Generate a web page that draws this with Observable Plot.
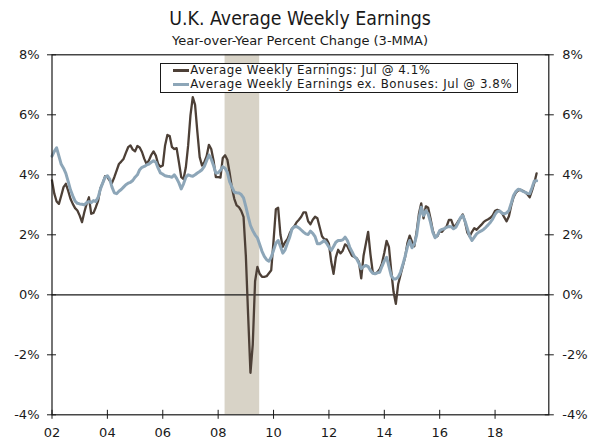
<!DOCTYPE html>
<html>
<head>
<meta charset="utf-8">
<script src="https://cdn.jsdelivr.net/npm/d3@7"></script>
<script src="https://cdn.jsdelivr.net/npm/@observablehq/plot@0.6"></script>
<style>
  body { margin: 0; background: #fff; }
  #wrap { position: relative; width: 600px; height: 443px; background: #fff; font-family: "DejaVu Sans", sans-serif; color: #1a1a1a; overflow: hidden; }
  .title { position: absolute; left: 0; width: 600px; text-align: center; line-height: 1; white-space: nowrap; }
  #t1 { top: 8px; font-size: 20px; transform: scaleX(0.87); }
  #t2 { top: 34px; font-size: 13px; }
  #chart { position: absolute; left: 0; top: 44px; }
  #legend { position: absolute; left: 160px; top: 62.7px; border: 1px solid #1a1a1a; background: #fff; padding: 0.3px 5px 0.3px 11.7px; font-size: 11.8px; letter-spacing: 0.55px; }
  .row { height: 13.8px; line-height: 13.8px; white-space: nowrap; display: flex; align-items: center; }
  .sw { display: inline-block; width: 16.6px; height: 3px; margin-right: 1px; }
</style>
</head>
<body>
<div id="wrap">
  <div class="title" id="t1">U.K. Average Weekly Earnings</div>
  <div class="title" id="t2">Year-over-Year Percent Change (3-MMA)</div>
  <div id="chart"></div>
  <div id="legend"></div>
</div>
<script>
// Monthly data, Jan 2002 – Jul 2019 (3-month average, year-over-year % change)
const startYear = 2002;
const aweTotal = [
  3.81, 3.37, 3.11, 3.03, 3.3, 3.59, 3.7, 3.47, 3.2, 3.03, 2.89, 2.81,
  2.64, 2.42, 2.75, 3.03, 3.25, 2.7, 2.73, 2.92, 3.14, 3.55, 3.73, 3.95,
  3.92, 3.81, 3.73, 3.92, 4.14, 4.36, 4.44, 4.53, 4.73, 4.92, 4.98, 4.84,
  4.78, 4.96, 4.91, 4.76, 4.53, 4.36, 4.48, 4.66, 4.78, 4.64, 4.36, 4.27,
  4.31, 4.98, 5.33, 5.29, 4.92, 4.86, 4.89, 4.42, 3.92, 3.86, 4.25, 4.98,
  5.98, 6.59, 6.33, 5.42, 4.59, 4.31, 4.42, 4.62, 5.0, 4.86, 4.48, 3.92,
  3.92, 3.91, 4.56, 4.65, 4.5, 4.05, 3.55, 3.2, 2.98, 2.92, 2.8, 2.6,
  1.3, -0.7, -2.6, -1.65, 0.45, 0.93, 0.7, 0.6, 0.6, 0.62, 0.72, 0.82,
  1.8, 2.85, 2.9, 2.0, 1.6, 1.75, 1.85, 2.05, 2.2, 2.28, 2.42, 2.5,
  2.6, 2.75, 2.75, 2.45, 2.35, 2.5, 2.6, 2.55, 2.25, 1.95, 1.85, 1.85,
  1.7, 1.1, 0.7, 1.25, 1.5, 1.38, 1.47, 1.68, 1.62, 1.45, 1.3, 1.26,
  1.22, 1.1, 0.55, 1.3, 1.7, 2.1, 1.35, 0.75, 0.7, 0.75, 0.85, 1.05,
  1.4, 1.8, 1.6, 0.8, 0.1, -0.3, 0.35, 0.65, 0.95, 1.25, 1.72, 1.97,
  1.77, 1.62, 2.1, 2.7, 3.05, 2.55, 2.95, 2.9, 2.55, 2.15, 1.92, 1.95,
  2.12, 2.1, 2.2, 2.28, 2.5, 2.5, 2.28, 2.32, 2.45, 2.55, 2.68, 2.42,
  2.07, 1.95, 2.1, 2.22, 2.17, 2.25, 2.33, 2.42, 2.48, 2.52, 2.57, 2.65,
  2.8, 2.83, 2.8, 2.73, 2.58, 2.45, 2.62, 2.98, 3.25, 3.4, 3.48, 3.5,
  3.47, 3.42, 3.35, 3.25, 3.47, 3.73, 4.05
];
const aweRegular = [
  4.62, 4.78, 4.9, 4.62, 4.35, 4.22, 4.05, 3.78, 3.5, 3.3, 3.12, 3.05,
  3.03, 3.02, 3.0, 3.07, 3.11, 3.07, 3.14, 3.11, 3.25, 3.53, 3.73, 3.92,
  3.97, 3.86, 3.59, 3.4, 3.37, 3.45, 3.51, 3.59, 3.67, 3.72, 3.75, 3.81,
  3.92, 4.0, 4.17, 4.25, 4.28, 4.33, 4.36, 4.42, 4.47, 4.42, 4.22, 4.06,
  4.02, 3.97, 3.95, 3.94, 3.92, 4.0, 3.88, 3.73, 3.53, 3.7, 3.92, 4.0,
  3.97, 3.95, 4.0, 4.06, 4.11, 4.17, 4.28, 4.47, 4.66, 4.53, 4.31, 4.06,
  4.07, 4.15, 4.27, 4.22, 4.08, 3.76, 3.59, 3.42, 3.4, 3.39, 3.34, 3.23,
  2.94, 2.61, 2.31, 2.14, 2.0, 1.9, 1.68, 1.45, 1.28, 1.17, 1.12, 1.26,
  1.48, 1.72, 1.81, 1.61, 1.39, 1.5, 1.72, 1.92, 2.19, 2.27, 2.28, 2.23,
  2.16, 2.09, 2.03, 2.01, 2.12, 2.05, 1.94, 1.7, 1.7, 1.75, 1.81, 1.72,
  1.59, 1.48, 1.61, 1.75, 1.81, 1.81, 1.83, 1.92, 1.81, 1.59, 1.44, 1.28,
  1.2, 1.05, 0.87, 0.94, 0.98, 0.94, 0.81, 0.72, 0.7, 0.73, 0.75, 0.95,
  1.13, 1.25, 0.95, 0.64, 0.53, 0.53, 0.59, 0.75, 1.0, 1.28, 1.59, 1.81,
  1.57, 1.7, 1.98, 2.53, 2.92, 2.64, 2.81, 2.7, 2.42, 2.09, 1.9, 1.98,
  2.14, 2.18, 2.2, 2.25, 2.28, 2.27, 2.2, 2.25, 2.4, 2.57, 2.64, 2.45,
  2.2, 1.95, 1.81, 1.92, 2.03, 2.09, 2.13, 2.18, 2.25, 2.33, 2.42, 2.53,
  2.68, 2.78, 2.79, 2.72, 2.7, 2.73, 2.81, 3.05, 3.31, 3.44, 3.52, 3.5,
  3.45, 3.42, 3.38, 3.37, 3.57, 3.79, 3.8
];
const recessions = [{start: 2008.25, end: 2009.5}];
const yDomain = [-4, 8];
const yTicks = [-4, -2, 0, 2, 4, 6, 8];
const xTicks = [2002, 2004, 2006, 2008, 2010, 2012, 2014, 2016, 2018];
const seriesLabels = [
  "Average Weekly Earnings: Jul @ 4.1%",
  "Average Weekly Earnings ex. Bonuses: Jul @ 3.8%"
];
const seriesColors = ["#4d4037", "#8da6b8"];

const data = aweTotal.map((v, i) => ({x: startYear + i / 12, total: v, regular: aweRegular[i]}));

const chart = Plot.plot({
  width: 600,
  height: 399,
  marginTop: 10.3,
  marginBottom: 28.7,
  marginLeft: 51.5,
  marginRight: 51.7,
  style: {fontFamily: "DejaVu Sans, sans-serif", fontSize: "13px", color: "#1a1a1a", background: "transparent", overflow: "visible"},
  x: {domain: [2002, 2019.94]},
  y: {domain: yDomain},
  marks: [
    Plot.rect(recessions, {x1: "start", x2: "end", y1: yDomain[0], y2: yDomain[1], fill: "#d8d3c7"}),
    Plot.ruleY([0], {stroke: "#1a1a1a", strokeWidth: 1.2}),
    Plot.line(data, {x: "x", y: "total", stroke: seriesColors[0], strokeWidth: 2.3}),
    Plot.line(data, {x: "x", y: "regular", stroke: seriesColors[1], strokeWidth: 3}),
    Plot.frame({stroke: "#1a1a1a", strokeWidth: 1.2}),
    Plot.axisY(yTicks, {anchor: "left", tickSize: 9, dx: 4.5, tickPadding: 8, tickFormat: d => d + "%", fontSize: 13}),
    Plot.axisY(yTicks, {anchor: "right", tickSize: 9, dx: -4.5, tickPadding: 9, tickFormat: d => d + "%", fontSize: 13}),
    Plot.axisX(xTicks, {anchor: "bottom", tickSize: 9, dy: -4.5, tickPadding: 8, tickFormat: d => String(d).slice(2), fontSize: 13})
  ]
});
document.getElementById("chart").appendChild(chart);

const legend = document.getElementById("legend");
seriesLabels.forEach((lab, i) => {
  const row = document.createElement("div");
  row.className = "row";
  const sw = document.createElement("span");
  sw.className = "sw";
  sw.style.background = seriesColors[i];
  row.appendChild(sw);
  row.appendChild(document.createTextNode(lab));
  legend.appendChild(row);
});
</script>
</body>
</html>
